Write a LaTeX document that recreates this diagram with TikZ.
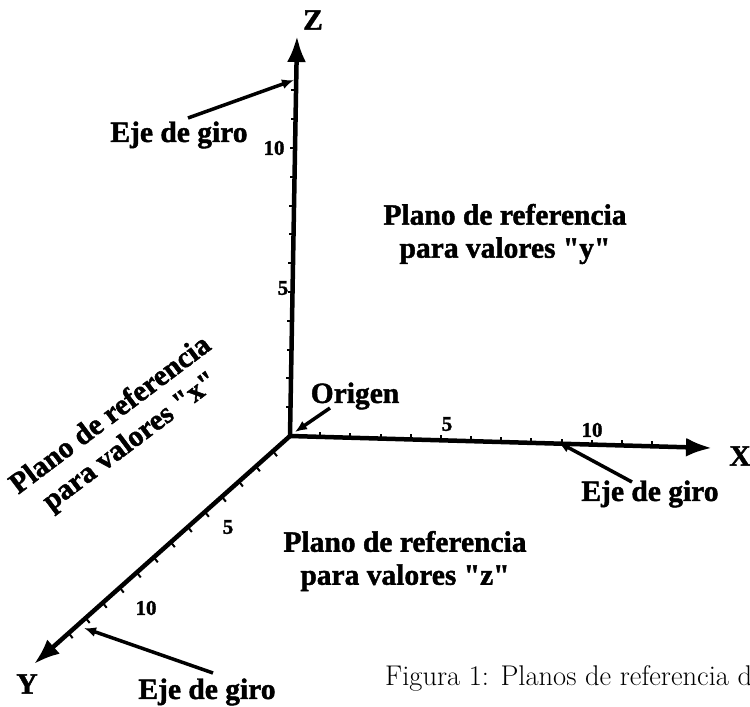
\documentclass[tikz,border=0pt]{standalone}
\usepackage{fontspec}
\newfontfamily\lblfont{Liberation Serif}[FakeBold=1.5]
\usetikzlibrary{arrows.meta,calc}

\begin{document}
\begin{tikzpicture}[x=1pt,y=-1pt,
  axis/.style={line width=4.5pt,-{Latex[length=26pt,width=19pt]}},
  pointer/.style={line width=3.5pt,-{Latex[length=12pt,width=10pt]}},
  lbl/.style={font=\lblfont\bfseries\fontsize{29.5}{33}\selectfont,inner sep=0pt,align=center},
  num/.style={font=\lblfont\bfseries\fontsize{21}{21}\selectfont,inner sep=0pt},
  tick/.style={line width=2pt}]
\useasboundingbox (0,0) rectangle (750,707);
% ejes
\coordinate (O) at (290,436);
\coordinate (zend) at (297,36);
\coordinate (xend) at (712,448);
\coordinate (yend) at (34,664);
\draw[axis] (O) -- (zend);
\draw[axis] (O) -- (xend);
\draw[axis] (O) -- (yend);
\foreach \i in {1,...,12}{
  \draw[tick] ($(O)!\i*28.8pt!(zend)$) -- ++(-5,0);
  \draw[tick] ($(O)!\i*30.2pt!(xend)$) -- ++(0,-5);
}
\foreach \i in {1,...,13}
  \draw[tick] ($(O)!\i*22.8pt!(yend)$) -- ++(4,5);
\node[num] (z5) at (283,288) {5};
\node[num] (z10) at (274,148) {10};
\node[num] (x5) at (447,424) {5};
\node[num] (x10) at (592,430) {10};
\node[num] (y5) at (228,527) {5};
\node[num] (y10) at (146,608) {10};
\node[lbl] (zlbl) at (313,20) {Z};
\node[lbl] (xlbl) at (740,456) {X};
\node[lbl] (ylbl) at (27,684) {Y};
% ejes de giro
\node[lbl] (ejez) at (179,135) {Eje de giro};
\coordinate (ejezA) at (188,118);
\coordinate (ejezB) at (294,80);
\draw[pointer] (ejezA) -- (ejezB);
\node[lbl] (ejex) at (650,494) {Eje de giro};
\coordinate (ejexA) at (632,482);
\coordinate (ejexB) at (558,442);
\draw[pointer] (ejexA) -- (ejexB);
\node[lbl] (ejey) at (207,692) {Eje de giro};
\coordinate (ejeyA) at (213,673);
\coordinate (ejeyB) at (84,628);
\draw[pointer] (ejeyA) -- (ejeyB);
\node[lbl] (orig) at (355,396) {Origen};
\coordinate (origA) at (330,408);
\coordinate (origB) at (295,432);
\draw[pointer] (origA) -- (origB);
% planos
\node[lbl] (plany) at (505,234) {Plano de referencia\\para valores "y"};
\node[lbl] (planz) at (405,561) {Plano de referencia\\para valores "z"};
\node[lbl,rotate=37] (planx) at (121,429) {Plano de referencia\\para valores "x"};
\node[font=\fontsize{28.5}{32}\selectfont,anchor=base west,inner sep=0pt] (cap) at (385,685) {Figura 1: Planos de referencia d};
\end{tikzpicture}
\end{document}
